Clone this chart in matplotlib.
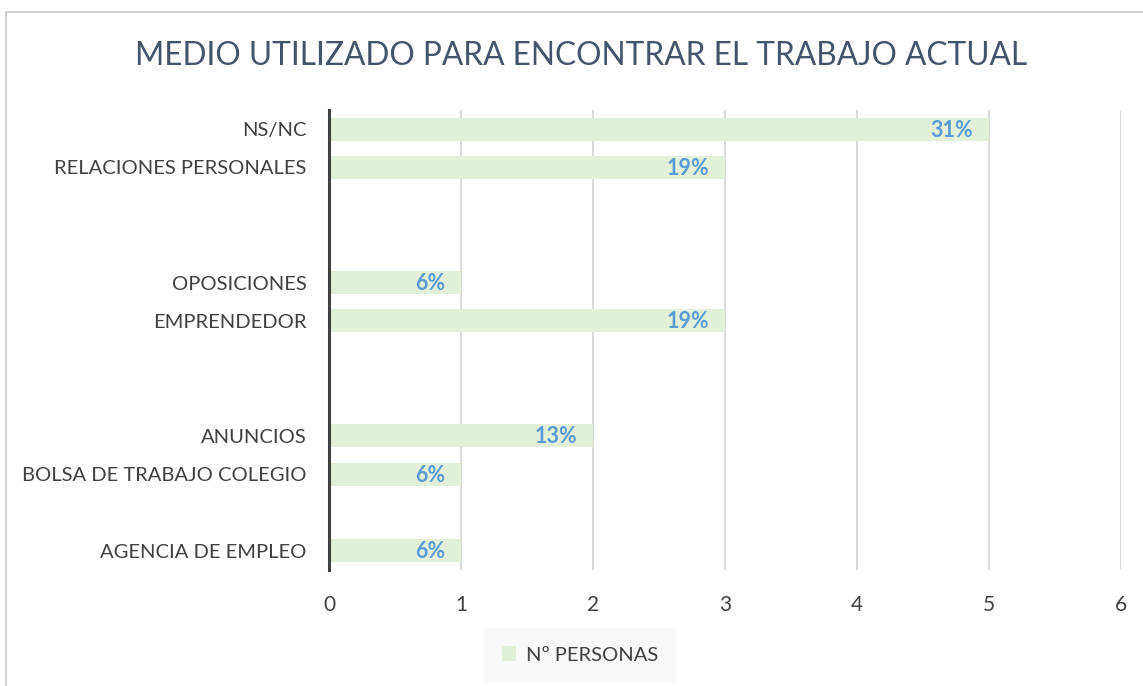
import matplotlib
matplotlib.use("Agg")
import matplotlib.pyplot as plt
from matplotlib.patches import Patch
import numpy as np

plt.rcParams['font.family'] = ['Lato', 'DejaVu Sans']

# Data (bottom to top, blank rows included as in the source sheet)
categories = ["AGENCIA DE EMPLEO", "", "BOLSA DE TRABAJO COLEGIO", "ANUNCIOS", "", "",
              "EMPRENDEDOR", "OPOSICIONES", "", "", "RELACIONES PERSONALES", "NS/NC"]
values = [1, 0, 1, 2, 0, 0, 3, 1, 0, 0, 3, 5]
pct_labels = ["6%", "", "6%", "13%", "", "", "19%", "6%", "", "", "19%", "31%"]
xticks = [0, 1, 2, 3, 4, 5, 6]
title = "MEDIO UTILIZADO PARA ENCONTRAR EL TRABAJO ACTUAL"
series_name = "Nº PERSONAS"

W, H = 1143, 686
fig = plt.figure(figsize=(W / 100, H / 100), dpi=100)
fig.patch.set_facecolor("white")

# outer chart border (left and top visible)
fig.add_artist(plt.Line2D([5.5 / W, 5.5 / W], [0, 1 - 11.5 / H], transform=fig.transFigure,
                          color="#C8C8C8", lw=1.2))
fig.add_artist(plt.Line2D([5.5 / W, 1], [1 - 11.5 / H, 1 - 11.5 / H], transform=fig.transFigure,
                          color="#C8C8C8", lw=1.2))

ax = fig.add_axes([329 / W, 1 - 570 / H, (1121 - 329) / W, (570 - 110) / H])
y = np.arange(len(categories))
bar_color = "#E2F0D9"
ax.barh(y, values, height=0.6, color=bar_color, zorder=2)

ax.set_xlim(0, 6)
ax.set_ylim(-0.5, len(categories) - 0.5)
ax.set_xticks(xticks)
ax.set_xticklabels([str(t) for t in xticks], fontsize=15, color="#404040")
ax.set_yticks(y)
ax.set_yticklabels(categories, fontsize=14.5, color="#404040")
ax.tick_params(axis="both", length=0)
ax.tick_params(axis="x", pad=18)
ax.tick_params(axis="y", pad=16)

for s in ["top", "right", "bottom"]:
    ax.spines[s].set_visible(False)
ax.spines["left"].set_color("#404040")
ax.spines["left"].set_linewidth(2.2)
ax.spines["left"].set_zorder(4)

ax.xaxis.grid(True, color="#D5D5D5", lw=1.3, zorder=1)
ax.set_axisbelow(True)

for yi, v, lab in zip(y, values, pct_labels):
    if lab:
        ax.annotate(lab, xy=(v, yi), xytext=(-16, -1), textcoords="offset pixels",
                    ha="right", va="center", fontsize=15.5, fontweight="bold",
                    color="#5B9BD5", zorder=3)

fig.text(581 / W, 1 - 56 / H, title, ha="center", va="center", fontsize=22.8,
         color="#44546A")

# legend
leg = fig.legend(handles=[Patch(facecolor=bar_color, edgecolor="none", label=series_name)],
                 loc="center", bbox_to_anchor=(580 / W, 1 - 655 / H), fontsize=14.5,
                 frameon=True, handlelength=0.7, handleheight=0.7, handletextpad=0.5,
                 borderpad=0.9, borderaxespad=0)
leg.get_frame().set_facecolor("#F8F8F8")
leg.get_frame().set_edgecolor("none")
leg.get_frame().set_boxstyle("square", pad=0)
for t in leg.get_texts():
    t.set_color("#404040")

fig.savefig("out.png", dpi=100)
